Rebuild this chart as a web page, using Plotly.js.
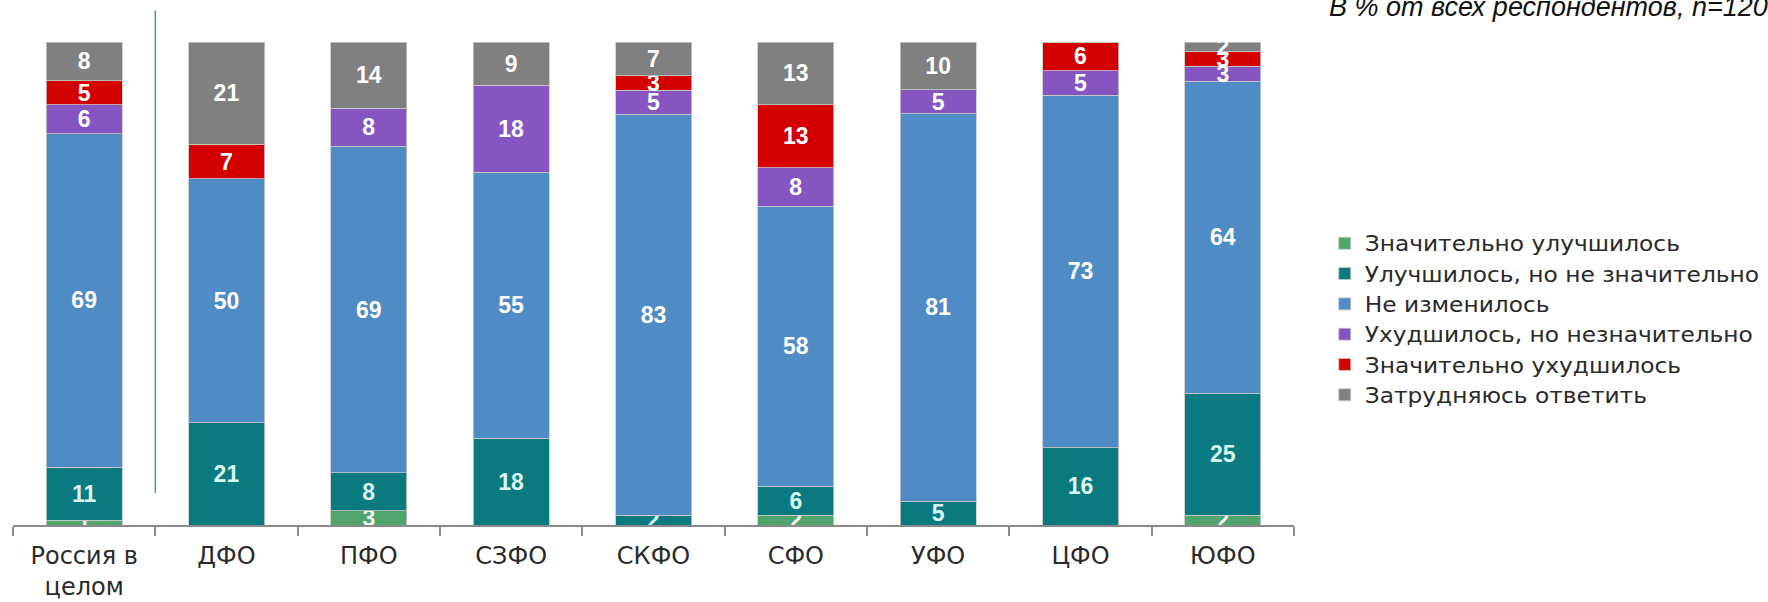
<!DOCTYPE html>
<html>
<head>
<meta charset="utf-8">
<script src="https://cdn.plot.ly/plotly-3.0.1.min.js"></script>
<style>
html,body{margin:0;padding:0;background:#fff;}
#chart{width:1768px;height:602px;}
#chart .legendtext{transform:scaleX(1.11);transform-box:fill-box;transform-origin:0 50%;}
#chart .legend, #chart .legend .scrollbox{clip-path:none !important;}
</style>
</head>
<body>
<div id="chart"></div>
<script>
const categories = ['Россия в<br>целом', 'ДФО', 'ПФО', 'СЗФО', 'СКФО', 'СФО', 'УФО', 'ЦФО', 'ЮФО'];
const seriesNames = ['Значительно улучшилось', 'Улучшилось, но не значительно', 'Не изменилось', 'Ухудшилось, но незначительно', 'Значительно ухудшилось', 'Затрудняюсь ответить'];
const muchBetter   = [1, 0, 3, 0, 0, 2, 0, 0, 2];
const slightBetter = [11, 21, 8, 18, 2, 6, 5, 16, 25];
const noChange     = [69, 50, 69, 55, 83, 58, 81, 73, 64];
const slightWorse  = [6, 0, 8, 18, 5, 8, 5, 5, 3];
const muchWorse    = [5, 7, 0, 0, 3, 13, 0, 6, 3];
const dontKnow     = [8, 21, 14, 9, 7, 13, 10, 0, 2];
const seriesValues = [muchBetter, slightBetter, noChange, slightWorse, muchWorse, dontKnow];
const colors = ['#4fa56c', '#0b7a80', '#4f8bc5', '#8655c2', '#d40000', '#808080'];
const textColors = ['#f2f2f2', '#d8f6f6', '#ffffff', '#ffffff', '#ffffff', '#ffffff'];
const noteText = 'В % от всех респондентов, n=1200';

const traces = seriesValues.map((vals, i) => ({
  type: 'bar',
  name: seriesNames[i],
  x: categories,
  y: vals,
  text: vals.map(v => v > 0 ? String(v) : ''),
  textposition: 'inside',
  insidetextanchor: 'middle',
  textangle: 0,
  constraintext: 'none',
  textfont: {family: 'Liberation Sans', size: 23, color: textColors[i], weight: 'bold'},
  marker: {color: colors[i], line: {color: 'rgba(200,200,200,0.8)', width: 1}},
  hoverinfo: 'name+y'
}));

const layout = {
  width: 1768, height: 602,
  margin: {l: 13, r: 474, t: 42, b: 77},
  paper_bgcolor: '#ffffff', plot_bgcolor: '#ffffff',
  barmode: 'stack',
  barnorm: 'percent',
  bargap: 0.466,
  showlegend: true,
  legend: {
    x: 1.024, xanchor: 'left', y: 0.625, yanchor: 'top',
    font: {family: 'DejaVu Sans', size: 21, color: '#2a2a2a'},
    traceorder: 'normal', tracegroupgap: 0, itemwidth: 30, bgcolor: 'rgba(0,0,0,0)'
  },
  xaxis: {
    type: 'category', range: [-0.5, 8.5], automargin: false,
    showline: true, linecolor: '#8a8a8a', linewidth: 2,
    ticks: 'outside', tickson: 'boundaries', ticklen: 9, tickwidth: 2, tickcolor: '#8a8a8a',
    ticklabelstandoff: 8,
    tickfont: {family: 'DejaVu Sans', size: 24, color: '#2a2a2a'},
    showgrid: false, zeroline: false, fixedrange: true
  },
  yaxis: {range: [0, 100], visible: false, automargin: false, fixedrange: true},
  shapes: [{
    type: 'line', xref: 'x', yref: 'paper', x0: 0.5, x1: 0.5, y0: 0.066, y1: 1.065,
    line: {color: '#3d9aa6', width: 1.5}
  }],
  annotations: [{
    text: noteText, xref: 'paper', yref: 'paper', x: 1.026, y: 1.037,
    xanchor: 'left', yanchor: 'bottom', showarrow: false,
    font: {family: 'Liberation Sans', size: 27, color: '#111111', style: 'italic'}
  }]
};

Plotly.newPlot('chart', traces, layout, {displayModeBar: false, staticPlot: true});
</script>
</body>
</html>
